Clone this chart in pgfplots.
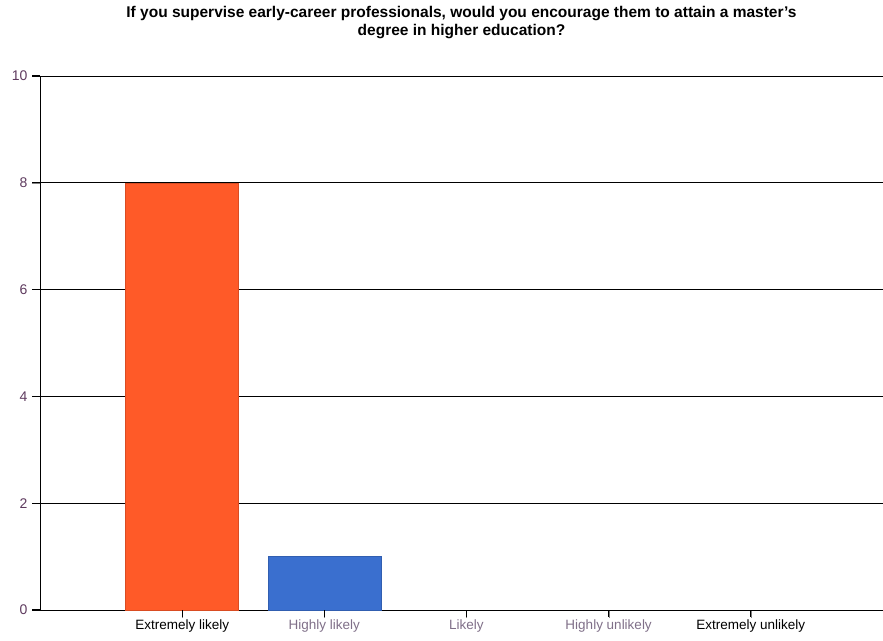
\documentclass[border=0pt]{standalone}
\usepackage{pgfplots}
\pgfplotsset{compat=1.18}
\usepackage{fontspec}
\setmainfont{Liberation Sans}
\definecolor{barorange}{HTML}{FF5A28}
\definecolor{barblue}{HTML}{3A6FCF}
\definecolor{ticklab}{HTML}{5E3A5E}
\definecolor{graylab}{HTML}{7F6F88}
\begin{document}
\begin{tikzpicture}
\useasboundingbox (-40pt,-30pt) rectangle (843pt,610pt);
\begin{axis}[
  at={(0pt,0pt)}, anchor=south west,
  scale only axis,
  width=843pt, height=534pt,
  xmin=-1, xmax=4.93,
  ymin=0, ymax=10,
  axis x line=bottom, axis y line=left,
  axis line style={black, line width=0.9pt, -},
  ymajorgrids,
  grid style={black, line width=0.8pt},
  ytick={0,2,4,6,8,10},
  xtick={0,1,2,3,4},
  xticklabels={Extremely likely,\textcolor{graylab}{Highly likely},\textcolor{graylab}{Likely},\textcolor{graylab}{Highly unlikely},Extremely unlikely},
  tick align=outside,
  major tick length=8pt,
  yticklabel style={font=\fontsize{14}{16}\selectfont, text=ticklab, xshift=-1pt},
  xticklabel style={font=\fontsize{13.5}{15}\selectfont, yshift=2pt},
  /pgf/number format/assume math mode=true,
  title={If you supervise early-career professionals, would you encourage them to attain a master's\\degree in higher education?},
  title style={at={(axis description cs:0.5,1)}, anchor=south, yshift=28pt, font=\bfseries\fontsize{15.5}{18}\selectfont, align=center},
  clip=false,
]
\addplot[ybar, bar width=113pt, bar shift=0pt, fill=barorange, draw=barorange!85!black] coordinates {(0,8)};
\addplot[ybar, bar width=113pt, bar shift=0pt, fill=barblue, draw=barblue!85!black] coordinates {(1,1)};
\addplot[ybar, bar width=113pt, bar shift=0pt, draw=none, fill=none] coordinates {(2,0) (3,0) (4,0)};
\pgfplotsinvokeforeach{0,2,4,6,8,10}{\draw[black, line width=1.2pt] (axis cs:-1,#1) -- ++(-8pt,0pt);}
\pgfplotsinvokeforeach{0,1,2,3,4}{\draw[black, line width=1.2pt] (axis cs:#1,0) -- ++(0pt,-7pt);}
\end{axis}
\end{tikzpicture}
\end{document}
